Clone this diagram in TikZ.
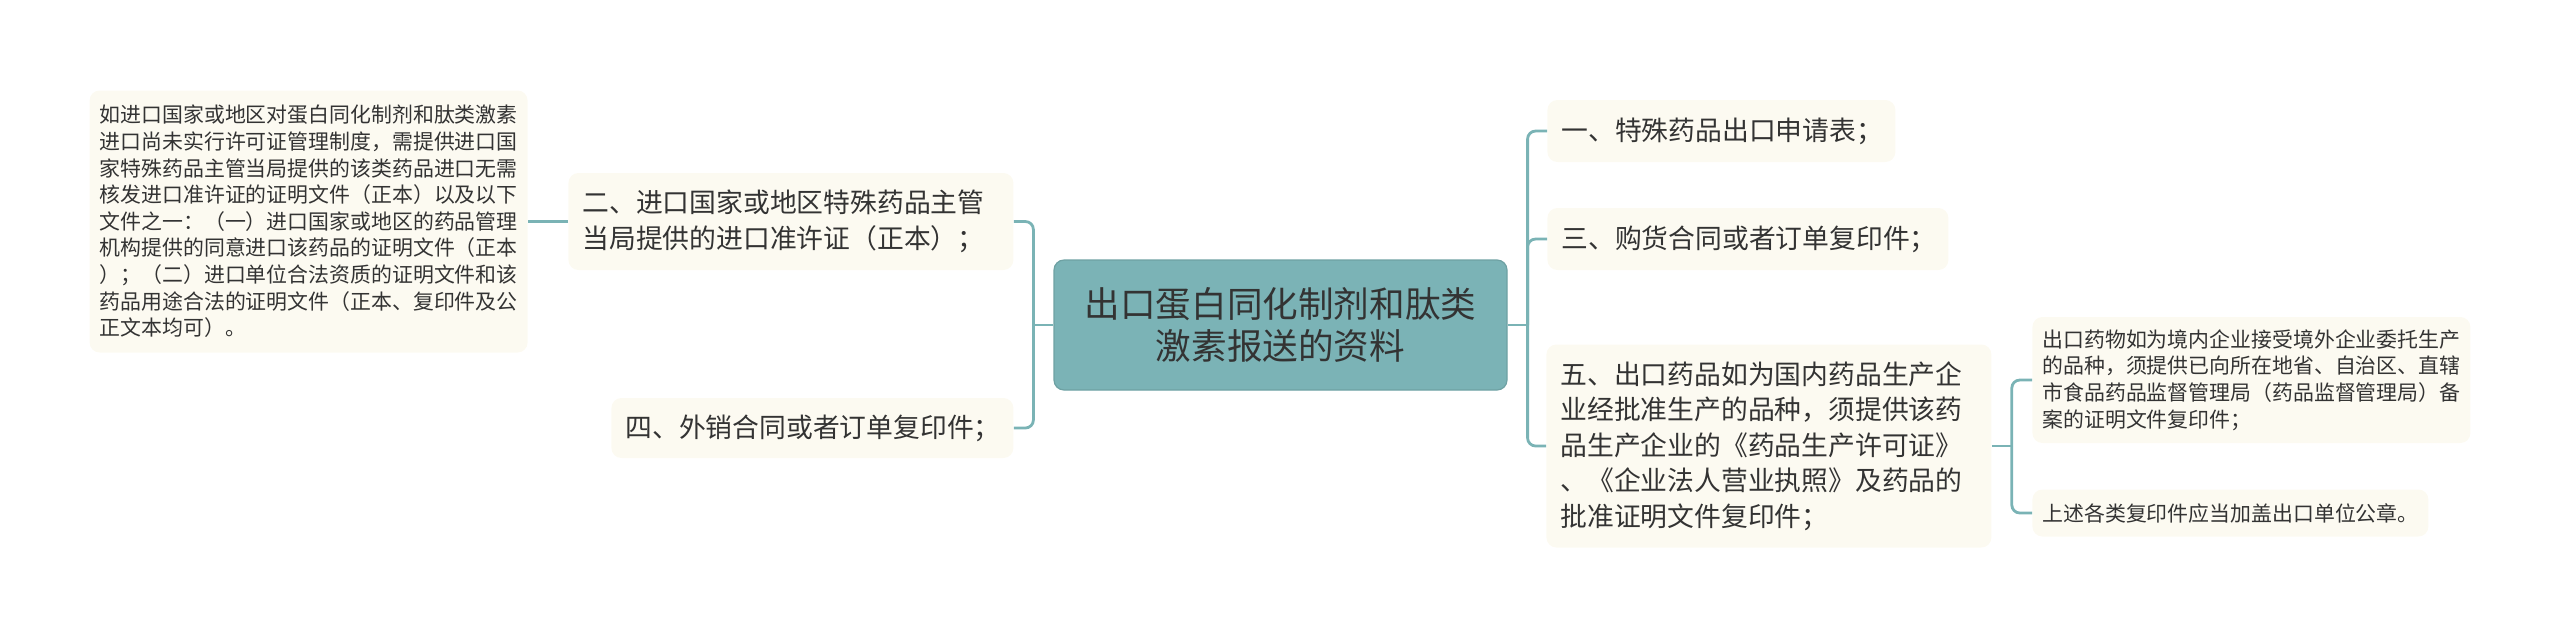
\documentclass[tikz,border=0pt]{standalone}
\usepackage{fontspec}
\newfontfamily\cjkfont{Noto Sans CJK SC}
\usetikzlibrary{positioning, calc}

\definecolor{tealline}{HTML}{7AB3B5}
\definecolor{tealfill}{HTML}{7BB3B6}
\definecolor{creamfill}{HTML}{FCFAF1}
\definecolor{inktext}{HTML}{333333}

\begin{document}
\begin{tikzpicture}[
    x=0.5pt, y=-0.5pt,
    rootnode/.style={draw=tealline!90!black, line width=0.6pt, fill=tealfill, rounded corners=5pt, text=inktext, align=center,
      minimum width=226.5pt, minimum height=65pt, font=\cjkfont\fontsize{17.8}{20.8}\selectfont},
    topicnode/.style={fill=creamfill, rounded corners=5pt, text=inktext, align=left, anchor=west, inner xsep=7pt,
      font=\cjkfont\fontsize{13.4}{17.8}\selectfont},
    notenode/.style={fill=creamfill, rounded corners=5pt, text=inktext, align=left, inner xsep=5pt,
      font=\cjkfont\fontsize{10.45}{13.3}\selectfont},
    link/.style={draw=tealline, line width=1.4pt},
    branch/.style={link, rounded corners=4pt}
]
    \useasboundingbox (0,0) rectangle (2560,639);

    \node[rootnode] (root) at (1280.5, 325) {出口蛋白同化制剂和肽类\\激素报送的资料};

    % left side
    \node[topicnode, text width=208.5pt, minimum height=48.5pt] (t_Two) at (568, 221.5)
      {二、进口国家或地区特殊药品主管\\当局提供的进口准许证（正本）；};
    \node[topicnode, text width=187pt, minimum height=30pt] (t_Four) at (611, 428)
      {四、外销合同或者订单复印件；};
    \node[notenode, text width=209pt, minimum height=131pt] (d_Left) [left=20pt of t_Two]
      {如进口国家或地区对蛋白同化制剂和肽类激素\\进口尚未实行许可证管理制度，需提供进口国\\家特殊药品主管当局提供的该类药品进口无需\\核发进口准许证的证明文件（正本）以及以下\\文件之一：（一）进口国家或地区的药品管理\\机构提供的同意进口该药品的证明文件（正本\\）；（二）进口单位合法资质的证明文件和该\\药品用途合法的证明文件（正本、复印件及公\\正文本均可）。};

    % right side
    \node[topicnode, text width=160pt, minimum height=31pt] (t_One) at (1547, 131)
      {一、特殊药品出口申请表；};
    \node[topicnode, text width=186.5pt, minimum height=31pt] (t_Three) at (1547, 239)
      {三、购货合同或者订单复印件；};
    \node[topicnode, text width=208.5pt, minimum height=101.5pt] (t_Five) at (1546, 446)
      {五、出口药品如为国内药品生产企\\业经批准生产的品种，须提供该药\\品生产企业的《药品生产许可证》\\、《企业法人营业执照》及药品的\\批准证明文件复印件；};
    \node[notenode, anchor=west, text width=209pt, minimum height=63pt] (d_Five1) at (2032, 380)
      {出口药物如为境内企业接受境外企业委托生产\\的品种，须提供已向所在地省、自治区、直辖\\市食品药品监督管理局（药品监督管理局）备\\案的证明文件复印件；};
    \node[notenode, anchor=west, text width=188pt, minimum height=23.5pt] (d_Five2) at (2032, 513)
      {上述各类复印件应当加盖出口单位公章。};

    % connectors
    \coordinate (split_L) at ($(root.west) + (-10pt, 0)$);
    \coordinate (split_R) at ($(root.east) + (10pt, 0)$);
    \coordinate (split_5) at ($(t_Five.east) + (10pt, 0)$);

    \draw[link] (root.west) -- (split_L);
    \draw[branch] (split_L) |- (t_Two.east);
    \draw[branch] (split_L) |- (t_Four.east);
    \draw[link] (t_Two.west) -- (d_Left.east);

    \draw[link] (root.east) -- (split_R);
    \draw[branch] (split_R) |- (t_One.west);
    \draw[branch] (split_R) |- (t_Three.west);
    \draw[branch] (split_R) |- (t_Five.west);

    \draw[link] (t_Five.east) -- (split_5);
    \draw[branch] (split_5) |- (d_Five1.west);
    \draw[branch] (split_5) |- (d_Five2.west);
\end{tikzpicture}
\end{document}
